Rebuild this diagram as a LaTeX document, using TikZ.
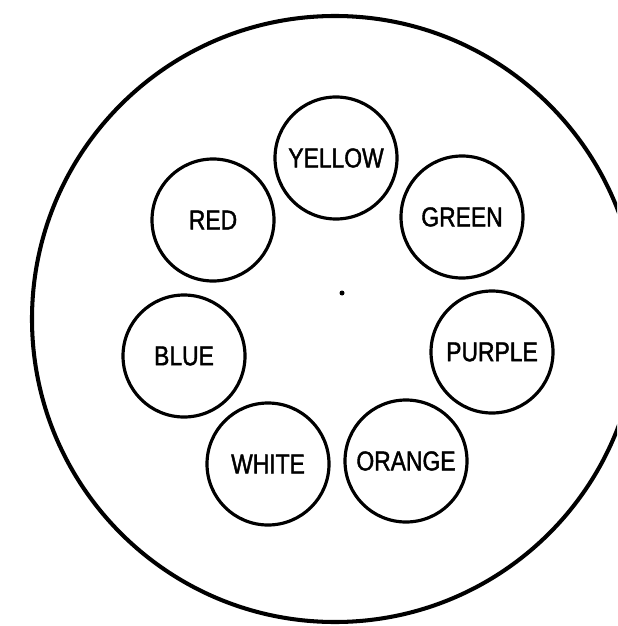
\documentclass[tikz,border=0pt]{standalone}
\usepackage{fontspec}
\newfontfamily\lblfont[FakeStretch=0.84,FakeBold=1.5]{Liberation Sans}
\usetikzlibrary{positioning}

\begin{document}
\begin{tikzpicture}[
  x=0.2mm, y=-0.2mm,
  disc/.style={
    circle, draw=black, line width=2.3pt,
    minimum size=121.2mm, inner sep=0pt
  },
  hue/.style={
    circle, draw=black, line width=1.8pt,
    minimum size=24.4mm, inner sep=0pt,
    font=\lblfont\fontsize{15.5}{16}\selectfont
  }
]

% ─── Frame ──────────────────────────────────────────────────
\clip (0,0) rectangle (617,626);
\fill[white] (0,0) rectangle (617,626);

\node[disc] (plate) at (335,319) {};

% ─── Colour ring ────────────────────────────────────────────
\node[hue] (yellow) at (336,158) {YELLOW};
\node[hue] (green)  at (462,217) {GREEN};
\node[hue] (red)    at (213,220) {RED};
\node[hue] (blue)   at (184,356) {BLUE};
\node[hue] (purple) at (492,352) {PURPLE};
\node[hue] (white)  at (268,464) {WHITE};
\node[hue] (orange) at (406,461) {ORANGE};

% ─── Centre mark ────────────────────────────────────────────
\coordinate (mid) at (342,293);
\fill (mid) circle[radius=0.5mm];

\end{tikzpicture}
\end{document}
